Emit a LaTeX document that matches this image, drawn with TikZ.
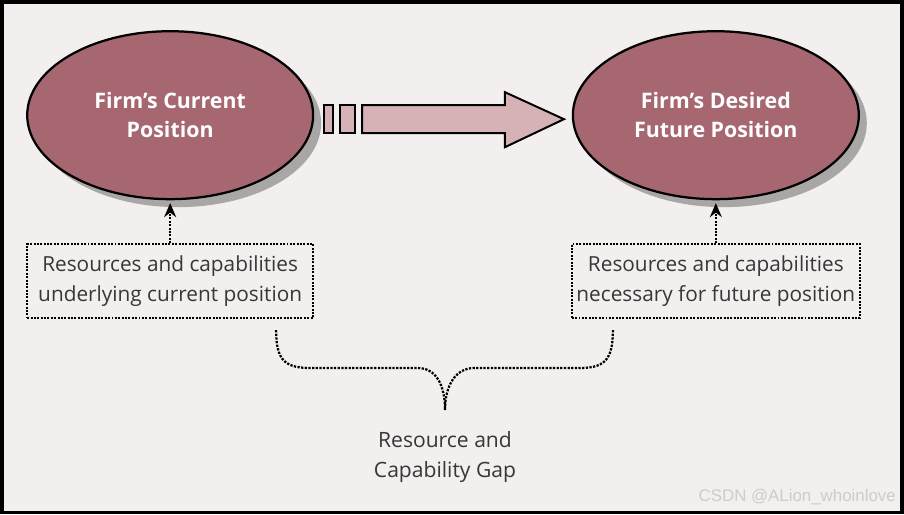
\documentclass[tikz,border=0pt]{standalone}
\usepackage{fontspec}
\setmainfont{Open Sans}
\newfontfamily\markfont{Liberation Sans}
\usepackage{tikz}
\usetikzlibrary{positioning, arrows.meta, calc, shadows, shapes.geometric}

\definecolor{paperbg}{RGB}{243,239,239}
\definecolor{mauve}{RGB}{166,103,113}
\definecolor{pinkarrow}{RGB}{214,178,183}
\definecolor{boxtext}{RGB}{55,55,55}

\begin{document}
\begin{tikzpicture}[
    x=0.025cm, y=-0.025cm,
    node distance=1.07cm and 2.0cm,
    position/.style={ellipse, draw=black, line width=1.6pt, fill=mauve, minimum width=7.15cm, minimum height=4.2cm, inner sep=0pt, align=center, text=white, font=\bfseries\fontsize{15.2}{21}\selectfont, drop shadow={shadow xshift=0.2cm, shadow yshift=-0.2cm, fill=black, opacity=0.3}},
    resbox/.style={rectangle, draw=black, densely dotted, line width=1.4pt, fill=paperbg, minimum width=7.15cm, minimum height=1.85cm, align=center, text=boxtext, font=\fontsize{14.8}{20.8}\selectfont},
    uparrow/.style={-{Stealth[length=10pt, width=8.5pt]}, densely dotted, line width=1.4pt, shorten >=2pt},
    gapbrace/.style={densely dotted, line width=1.6pt},
    movearrow/.style={draw=black, line width=1.4pt, fill=pinkarrow}
]
    % frame and paper
    \path [fill=paperbg, draw=black, line width=2.5pt] (1.5,1.5) rectangle (902.5,512.5);
    \useasboundingbox (0,0) rectangle (904,514);

    \node [position] (cur) at (170,115) {Firm’s Current\\Position};
    \node [position] (fut) at (716,115) {Firm’s Desired\\Future Position};

    \node [resbox, below=of cur] (curres) {Resources and capabilities\\underlying current position};
    \node [resbox, below=of fut] (futres) {Resources and capabilities\\necessary for future position};

    \draw [uparrow] (curres.north) -- (cur.south);
    \draw [uparrow] (futres.north) -- (fut.south);

    % broken block arrow
    \draw [movearrow] (324,105) rectangle (333,133);
    \draw [movearrow] (340,105) rectangle (355,133);
    \draw [movearrow] (362,105) -- (505,105) -- (505,92) -- (564,119)
        -- (505,147) -- (505,133) -- (362,133) -- cycle;

    % brace
    \coordinate (gaptip) at (445,410);
    \draw [gapbrace] (276,330) .. controls (276,362) and (286,368) .. (312,368)
        -- (418,368) .. controls (436,368) and (445,385) .. (gaptip);
    \draw [gapbrace] (613,330) .. controls (613,362) and (603,368) .. (578,368)
        -- (474,368) .. controls (456,368) and (445,385) .. (gaptip);

    \node [below=0.42cm of gaptip, align=center, text=boxtext, font=\fontsize{15}{20.8}\selectfont] (gap) {Resource and\\Capability Gap};

    \node [anchor=east, text=gray!40, font=\markfont\fontsize{12}{14}\selectfont] (mark) at (901,497) {CSDN @ALion\_whoinlove};
\end{tikzpicture}
\end{document}
